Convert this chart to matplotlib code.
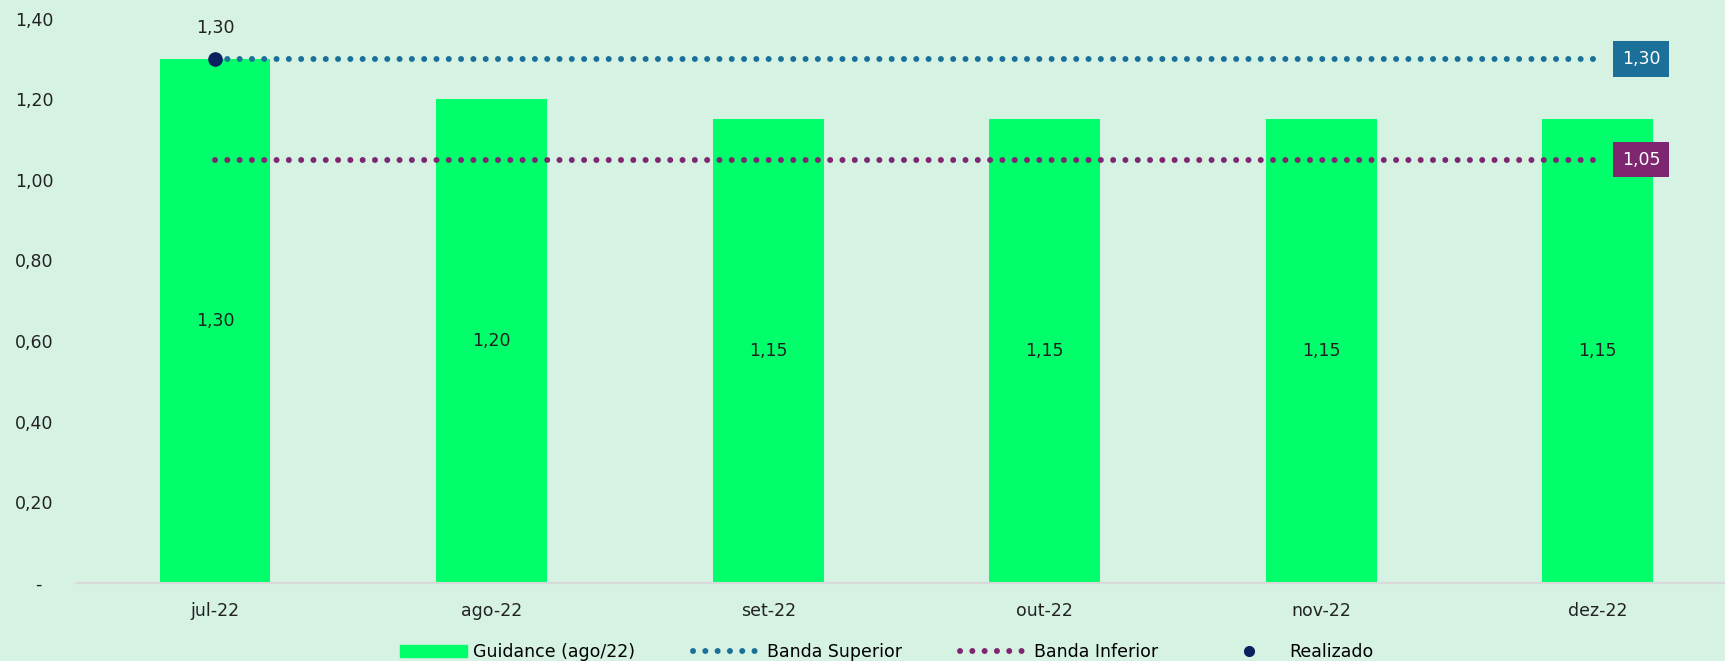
import matplotlib
matplotlib.use('Agg')
import matplotlib.pyplot as plt
from matplotlib.lines import Line2D
from matplotlib.patches import Patch

# dados
meses = ['jul-22', 'ago-22', 'set-22', 'out-22', 'nov-22', 'dez-22']
guidance = [1.30, 1.20, 1.15, 1.15, 1.15, 1.15]
banda_superior = [1.30] * 6
banda_inferior = [1.05] * 6
realizado = [1.30]
yticks = [0, 0.2, 0.4, 0.6, 0.8, 1.0, 1.2, 1.4]

fundo = '#d5f2e3'
verde = '#00ff6a'
azul = '#1a7098'
roxo = '#7f2670'
marinho = '#0a2060'
texto = '#222222'

plt.rcParams['font.family'] = ['DejaVu Sans']
plt.rcParams['font.size'] = 12.5

fig = plt.figure(figsize=(17.25, 6.61), dpi=100, facecolor=fundo)
ax = fig.add_axes([0.0446, 0.118, 0.9554, 0.854])
ax.set_facecolor(fundo)

def fmt(v):
    return f'{v:.2f}'.replace('.', ',')

x = list(range(len(meses)))
ax.bar(x, guidance, width=0.4, color=verde, label='Guidance (ago/22)', zorder=2)
for xi, v in zip(x, guidance):
    ax.text(xi, v / 2, fmt(v), ha='center', va='center', color=texto, zorder=3)

estilo = (0, (0.01, 2.05))
ax.plot(x, banda_superior, color=azul, lw=4.3, linestyle=estilo,
        dash_capstyle='round', label='Banda Superior', zorder=3)
ax.plot(x, banda_inferior, color=roxo, lw=4.3, linestyle=estilo,
        dash_capstyle='round', label='Banda Inferior', zorder=3)
ax.plot(x[:len(realizado)], realizado, 'o', color=marinho, ms=9.5,
        label='Realizado', zorder=4)
ax.annotate(fmt(realizado[0]), (0, realizado[0]), xytext=(0, 22),
            textcoords='offset points', ha='center', va='center', color=texto)

# caixas com os valores das bandas
for serie, cor in [(banda_superior, azul), (banda_inferior, roxo)]:
    ax.text(5.157, serie[-1], fmt(serie[-1]), ha='center', va='center',
            color='white', zorder=5,
            bbox=dict(boxstyle='square,pad=0.5', fc=cor, ec='none'))

ax.set_xlim(-0.5, 5.46)
ax.set_ylim(0, 1.4)
ax.set_xticks(x)
ax.set_xticklabels(meses)
ax.set_yticks(yticks)
ax.set_yticklabels(['-  '] + [fmt(v) for v in yticks[1:]])
ax.tick_params(axis='both', length=0, colors=texto)
ax.tick_params(axis='x', pad=14)
ax.tick_params(axis='y', pad=17)
for lado in ['top', 'right', 'left']:
    ax.spines[lado].set_visible(False)
ax.spines['bottom'].set_color('#d9d9d9')
ax.spines['bottom'].set_linewidth(1.5)

handles = [
    Patch(color=verde),
    Line2D([], [], color=azul, lw=4.3, linestyle=estilo, dash_capstyle='round'),
    Line2D([], [], color=roxo, lw=4.3, linestyle=estilo, dash_capstyle='round'),
    Line2D([], [], marker='o', color=marinho, ms=7, linestyle='none'),
]
labels = ['Guidance (ago/22)', 'Banda Superior', 'Banda Inferior', 'Realizado']
fig.legend(handles, labels, loc='center', bbox_to_anchor=(0.514, 0.0136),
           ncol=4, frameon=False, handlelength=3.86, columnspacing=3.35,
           handletextpad=0.38)

plt.savefig('out.png', facecolor=fundo)
